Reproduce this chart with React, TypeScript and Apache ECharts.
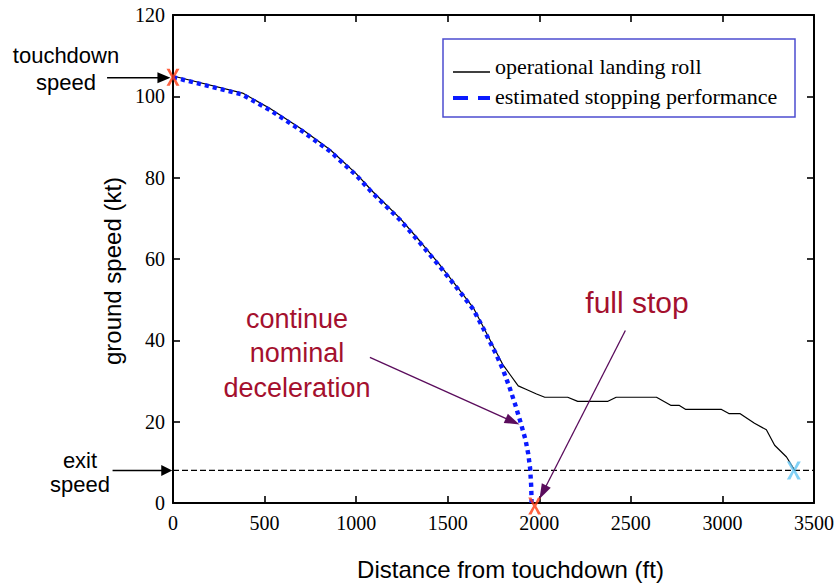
import React, { useEffect, useRef } from "react";
import * as echarts from "echarts";

// ---------- data ----------
const xTickValues = [0, 500, 1000, 1500, 2000, 2500, 3000, 3500];
const yTickValues = [0, 20, 40, 60, 80, 100, 120];

const rollDistance = [0, 380, 530, 710, 860, 1000, 1090, 1240, 1350, 1456, 1550, 1640, 1700, 1750, 1800, 1840, 1885, 1930, 1985, 2030, 2155, 2210, 2375, 2420, 2640, 2720, 2765, 2800, 2995, 3035, 3095, 3175, 3240, 3285, 3350, 3395];
const rollSpeed = [105, 100.8, 97, 91.7, 86.8, 81, 76.6, 70, 64.3, 58.6, 53.2, 48, 42.8, 38.4, 34.1, 31.6, 28.8, 27.9, 26.8, 26, 26, 25, 25, 26, 26, 24, 24, 23, 23, 22, 22, 19.6, 18, 14.2, 11.3, 8];

const estDistance = [0, 380, 530, 710, 860, 1000, 1090, 1240, 1350, 1456, 1550, 1640, 1700, 1765, 1800, 1837, 1870, 1900, 1925, 1940, 1950, 1956, 1958];
const estSpeed = [104.7, 100.4, 96.6, 91.3, 86.4, 80.6, 76.2, 69.6, 63.9, 58.2, 52.9, 47.6, 42.4, 36.5, 33, 28.5, 24, 19.5, 15.5, 12, 8.5, 4, 0];

const exitLineDistance = [0, 3500];
const exitSpeedKt = 8;

const touchdownMark = [0, 104.7];
const fullStopMark = [1975, 0];
const exitMark = [3390, 8];

const seriesNames = ["operational landing roll", "estimated stopping performance"];

// annotation arrows, in data coordinates
const arrowFrom = [[-360, 104.6], [-330, 8], [1075, 35.8], [2470, 42.4]];
const arrowTo = [[-14, 104.6], [-4, 8], [1892, 19.3], [2001, 1]];

// ---------- styling ----------
const SERIF = "Liberation Serif";
const SANS = "Liberation Sans";
const DARK_RED = "#a4102e";
const PURPLE = "#5a0c5c";
const BLUE = "#0a1aff";
const X_PATH = "path://M0,0H3L6,6.2L9,0H12L7.5,8L12,16H9L6,9.8L3,16H0L4.5,8Z";

const GRID = { left: 173, right: 24, top: 15, bottom: 80 };
const W = 838;
const H = 586;
const TICK_PX = 7;

const zip = (a: number[], b: number[]) => a.map((v, i) => [v, b[i]]);

const arrowStyles = [
  { color: "#000", width: 1.5, len: 13, w: 11 },
  { color: "#000", width: 1.5, len: 11, w: 11 },
  { color: PURPLE, width: 1.3, len: 15, w: 10 },
  { color: PURPLE, width: 1.3, len: 15, w: 10 },
];

function makeAxis(position: string, values: number[], extra: any) {
  return {
    type: "value",
    position,
    min: values[0],
    max: values[values.length - 1],
    interval: values[1] - values[0],
    axisLine: { show: true, onZero: false, lineStyle: { color: "#000", width: 2 } },
    axisTick: { show: false },
    splitLine: { show: false },
    ...extra,
  };
}

// inward frame ticks as mark lines (tick length converted from pixels into data units)
function frameTickLines() {
  const xMin = xTickValues[0];
  const xMax = xTickValues[xTickValues.length - 1];
  const yMin = yTickValues[0];
  const yMax = yTickValues[yTickValues.length - 1];
  const dx = (TICK_PX * (xMax - xMin)) / (W - GRID.left - GRID.right);
  const dy = (TICK_PX * (yMax - yMin)) / (H - GRID.top - GRID.bottom);
  const out: any[] = [];
  xTickValues.slice(1, -1).forEach((v) => {
    out.push([{ coord: [v, yMin] }, { coord: [v, yMin + dy] }]);
    out.push([{ coord: [v, yMax] }, { coord: [v, yMax - dy] }]);
  });
  yTickValues.slice(1, -1).forEach((v) => {
    out.push([{ coord: [xMin, v] }, { coord: [xMin + dx, v] }]);
    out.push([{ coord: [xMax, v] }, { coord: [xMax - dx, v] }]);
  });
  return out;
}

export default function App() {
  const ref = useRef<HTMLDivElement>(null);

  useEffect(() => {
    if (!ref.current) return;
    const chart = echarts.init(ref.current, null, { renderer: "svg" });

    const option: any = {
      animation: false,
      backgroundColor: "#fff",
      textStyle: { fontFamily: SANS },
      grid: { ...GRID, containLabel: false },
      xAxis: [
        makeAxis("bottom", xTickValues, {
          name: "Distance from touchdown (ft)",
          nameLocation: "middle",
          nameGap: 54,
          nameTextStyle: { fontFamily: SANS, fontSize: 24, color: "#000", padding: [0, 0, 0, 34] },
          axisLabel: {
            fontFamily: SERIF,
            fontSize: 20,
            color: "#000",
            margin: 10,
            formatter: (v: number) => String(v),
          },
        }),
        makeAxis("top", xTickValues, { axisLabel: { show: false } }),
      ],
      yAxis: [
        makeAxis("left", yTickValues, {
          name: "ground speed (kt)",
          nameLocation: "middle",
          nameGap: 38,
          nameTextStyle: { fontFamily: SANS, fontSize: 24, color: "#000", padding: [0, 24, 0, 0] },
          axisLabel: {
            fontFamily: SERIF,
            fontSize: 20,
            color: "#000",
            margin: 8,
            formatter: (v: number) => String(v),
          },
        }),
        makeAxis("right", yTickValues, { axisLabel: { show: false } }),
      ],
      series: [
        {
          name: seriesNames[0],
          type: "line",
          data: zip(rollDistance, rollSpeed),
          symbol: "none",
          clip: false,
          z: 3,
          lineStyle: { color: "#000", width: 1.2 },
        },
        {
          name: seriesNames[1],
          type: "line",
          data: zip(estDistance, estSpeed),
          symbol: "none",
          clip: false,
          z: 4,
          lineStyle: { color: BLUE, width: 4.4, type: [4.2, 4], cap: "butt" },
        },
        {
          name: "exit speed",
          type: "line",
          data: exitLineDistance.map((d) => [d, exitSpeedKt]),
          symbol: "none",
          clip: false,
          z: 2,
          lineStyle: { color: "#000", width: 1.2, type: [6, 3] },
          markLine: {
            silent: true,
            symbol: ["none", "none"],
            animation: false,
            label: { show: false },
            emphasis: { disabled: true },
            lineStyle: { color: "#000", width: 1.6, type: "solid" },
            data: frameTickLines(),
          },
        },
        {
          name: "markers",
          type: "scatter",
          clip: false,
          z: 6,
          symbol: X_PATH,
          data: [
            { value: touchdownMark, symbolSize: [13, 17], itemStyle: { color: "#ff3b10" } },
            { value: fullStopMark, symbolSize: [13, 17], symbolOffset: [0, 3], itemStyle: { color: "#ff3b10" } },
            { value: exitMark, symbolSize: [14, 18], itemStyle: { color: "#62c6f4" } },
          ],
        },
      ],
    };

    chart.setOption(option);

    const toPx = (p: number[]) => {
      const r = chart.convertToPixel({ xAxisIndex: 0, yAxisIndex: 0 }, p) as number[];
      return [Number(r[0]), Number(r[1])];
    };

    const elements: any[] = [];
    const seg = (ax: number, ay: number, bx: number, by: number, color: string, w: number, z = 10) => ({
      type: "line",
      silent: true,
      z,
      shape: { x1: ax, y1: ay, x2: bx, y2: by },
      style: { stroke: color, lineWidth: w },
    });

    // annotation arrows
    arrowFrom.forEach((f, i) => {
      const s = toPx(f);
      const t = toPx(arrowTo[i]);
      const st = arrowStyles[i];
      const dx = t[0] - s[0];
      const dy = t[1] - s[1];
      const L = Math.hypot(dx, dy);
      const ux = dx / L;
      const uy = dy / L;
      const nx = -uy;
      const ny = ux;
      const bx = t[0] - ux * st.len;
      const by = t[1] - uy * st.len;
      elements.push(seg(s[0], s[1], bx + ux, by + uy, st.color, st.width, 10));
      elements.push({
        type: "polygon",
        silent: true,
        z: 10,
        shape: {
          points: [
            [t[0], t[1]],
            [bx + (nx * st.w) / 2, by + (ny * st.w) / 2],
            [bx - (nx * st.w) / 2, by - (ny * st.w) / 2],
          ],
        },
        style: { fill: st.color },
      });
    });

    const textEl = (
      text: string,
      x: number,
      y: number,
      size: number,
      lh: number,
      color: string,
      family = SANS,
      align = "center",
      z = 10
    ) => ({
      type: "text",
      x,
      y,
      silent: true,
      z,
      style: {
        text,
        fill: color,
        fontFamily: family,
        fontSize: size,
        lineHeight: lh,
        align,
        verticalAlign: "middle",
        textAlign: align,
        textVerticalAlign: "middle",
      },
    });

    elements.push(textEl("touchdown\nspeed", 66, 68.5, 22, 27, "#000"));
    elements.push(textEl("exit\nspeed", 80, 472, 22, 24, "#000"));
    elements.push(textEl("continue\nnominal\ndeceleration", 297, 353, 27, 34.5, DARK_RED));
    elements.push(textEl("full stop", 637, 302, 30, 34, DARK_RED));

    // legend box
    elements.push({
      type: "rect",
      silent: true,
      z: 11,
      shape: { x: 443, y: 39, width: 352, height: 78 },
      style: { fill: "#fff", stroke: "#4c4ccf", lineWidth: 1.5 },
    });
    elements.push(seg(453, 72, 490, 72, "#000", 1.5, 12));
    elements.push({
      type: "line",
      silent: true,
      z: 12,
      shape: { x1: 453, y1: 98, x2: 490, y2: 98 },
      style: { stroke: BLUE, lineWidth: 4, lineDash: [15, 10] },
    });
    elements.push(textEl(seriesNames[0], 495, 66, 22, 26, "#000", SERIF, "left", 12));
    elements.push(textEl(seriesNames[1], 495, 96, 22, 26, "#000", SERIF, "left", 12));

    chart.setOption({ graphic: { elements } });

    return () => chart.dispose();
  }, []);

  return (
    <div
      ref={ref}
      style={{ position: "fixed", left: 0, top: 0, width: 838, height: 586, background: "#fff" }}
    />
  );
}
